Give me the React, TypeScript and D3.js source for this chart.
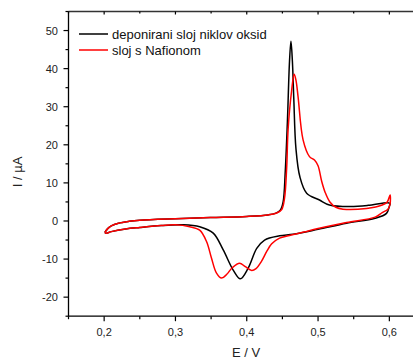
import React from "react";
import * as d3 from "d3";

const seriesNames = ["deponirani sloj niklov oksid", "sloj s Nafionom"];
const seriesColors = ["#000000", "#ff0000"];

// Black: deposited nickel oxide layer (E / V, I / µA), closed CV loop
const blackE = [0.201, 0.205, 0.21, 0.22, 0.235, 0.25, 0.3, 0.35, 0.4, 0.43, 0.44, 0.447, 0.451, 0.454, 0.457, 0.46, 0.462, 0.464, 0.466, 0.469, 0.4745, 0.484, 0.502, 0.516, 0.545, 0.57, 0.598, 0.601,
  0.6, 0.596, 0.58, 0.54, 0.5, 0.465, 0.446, 0.425, 0.414, 0.402, 0.391, 0.381, 0.367, 0.353, 0.334, 0.31, 0.28, 0.25, 0.23, 0.21, 0.203, 0.201];
const blackI = [-3.0, -2.0, -1.3, -0.6, -0.1, 0.2, 0.6, 0.9, 1.2, 1.6, 2.0, 2.8, 5, 13, 26, 42, 47.2, 42, 32, 19, 11.6, 7.3, 5.5, 4.2, 3.8, 4.1, 4.8, 4.6,
  3.8, 2.0, 0.7, -0.6, -2.2, -3.5, -3.9, -5.0, -7.2, -12.4, -15.2, -12.9, -7.6, -3.2, -1.5, -1.0, -1.2, -1.7, -2.1, -2.8, -3.2, -3.0];

// Red: layer with Nafion
const redE = [0.201, 0.205, 0.21, 0.22, 0.235, 0.25, 0.3, 0.35, 0.4, 0.43, 0.442, 0.449, 0.453, 0.456, 0.458, 0.4628, 0.4665, 0.469, 0.472, 0.479, 0.488, 0.495, 0.5, 0.505, 0.51, 0.5166, 0.525, 0.535, 0.568, 0.59, 0.597, 0.601,
  0.601, 0.598, 0.59, 0.58, 0.54, 0.5, 0.48, 0.46, 0.446, 0.435, 0.428, 0.42, 0.413, 0.407, 0.398, 0.39, 0.38, 0.372, 0.3647, 0.3576, 0.3506, 0.3436, 0.334, 0.32, 0.3, 0.28, 0.25, 0.23, 0.21, 0.203, 0.201];
const redI = [-3.0, -2.0, -1.3, -0.6, -0.1, 0.2, 0.6, 0.9, 1.2, 1.6, 2.1, 3.0, 6, 14, 24, 34, 38.5, 37, 32.6, 21.3, 16.9, 16, 14.5, 10.5, 7.5, 5.0, 3.6, 3.1, 3.3, 4.2, 5.0, 6.8,
  4.5, 3.1, 2.2, 1.0, -0.4, -2.0, -2.9, -3.8, -4.5, -6, -8, -10.8, -12.5, -13, -12, -11.1, -12.2, -14, -15, -13.7, -9.8, -5.4, -2.4, -1.5, -1.0, -1.2, -1.7, -2.1, -2.8, -3.2, -3.0];

const xMajor = [0.2, 0.3, 0.4, 0.5, 0.6];
const xMinor = [0.15, 0.25, 0.35, 0.45, 0.55, 0.65];
const yMajor = [-20, -10, 0, 10, 20, 30, 40, 50];
const yMinor = [-25, -15, -5, 5, 15, 25, 35, 45, 55];

const xTitle = "E / V";
const yTitle = "I / µA";

export default function App() {
  const W = 413, H = 362;
  const x = d3.scaleLinear().domain([0.15, 0.65]).range([68.5, 425]);
  const y = d3.scaleLinear().domain([-25, 55]).range([316.2, 11.5]);
  const line = d3
    .line<[number, number]>()
    .x((d) => x(d[0]))
    .y((d) => y(d[1]))
    .curve(d3.curveCatmullRom.alpha(0.5));
  const series = [
    blackE.map((e, i) => [e, blackI[i]] as [number, number]),
    redE.map((e, i) => [e, redI[i]] as [number, number]),
  ];
  const x0 = x(0.15), x1 = x(0.65), yb = y(-25), yt = y(55);
  const font = "Liberation Sans, Arial, sans-serif";
  const fmt = (v: number) => v.toFixed(1).replace(".", ",");
  return (
    <svg width={W} height={H} style={{ position: "absolute", left: 0, top: 0, background: "#fff" }} fontFamily={font}>
      <rect x={0} y={0} width={W} height={H} fill="#fff" />
      {series.map((s, i) => (
        <path key={i} d={line(s) || ""} fill="none" stroke={seriesColors[i]} strokeWidth={1.5} strokeLinejoin="round" />
      ))}
      {/* frame */}
      <line x1={x0} x2={x1} y1={yb} y2={yb} stroke="#000" strokeWidth={1.3} />
      <line x1={x0} x2={x1} y1={yt} y2={yt} stroke="#333" strokeWidth={1.3} />
      <line x1={x0} x2={x0} y1={yt} y2={yb} stroke="#000" strokeWidth={1.3} />
      {/* x ticks */}
      {xMajor.map((v) => (
        <g key={"xm" + v}>
          <line x1={x(v)} x2={x(v)} y1={yb} y2={yb + 5} stroke="#000" strokeWidth={1.2} />
          <line x1={x(v)} x2={x(v)} y1={yt} y2={yt + 3} stroke="#000" strokeWidth={1.2} />
          <text x={x(v)} y={336} fontSize={11} textAnchor="middle" fill="#222">{fmt(v)}</text>
        </g>
      ))}
      {xMinor.map((v) => (
        <g key={"xn" + v}>
          <line x1={x(v)} x2={x(v)} y1={yb} y2={yb + 3} stroke="#000" strokeWidth={1.2} />
          <line x1={x(v)} x2={x(v)} y1={yt} y2={yt + 2} stroke="#000" strokeWidth={1.2} />
        </g>
      ))}
      {/* y ticks */}
      {yMajor.map((v) => (
        <g key={"ym" + v}>
          <line x1={x0 - 5} x2={x0} y1={y(v)} y2={y(v)} stroke="#000" strokeWidth={1.2} />
          <text x={58} y={y(v) + 4} fontSize={11} textAnchor="end" fill="#222">{v}</text>
        </g>
      ))}
      {yMinor.map((v) => (
        <line key={"yn" + v} x1={x0 - 3} x2={x0} y1={y(v)} y2={y(v)} stroke="#000" strokeWidth={1.2} />
      ))}
      {/* titles */}
      <text x={246} y={357} fontSize={13} textAnchor="middle" fill="#222">{xTitle}</text>
      <text transform="translate(22,172) rotate(-90)" fontSize={13} textAnchor="middle" fill="#222">{yTitle}</text>
      {/* legend */}
      {seriesNames.map((n, i) => (
        <g key={"lg" + i}>
          <line x1={79} x2={108} y1={34 + i * 16} y2={34 + i * 16} stroke={seriesColors[i]} strokeWidth={1.5} />
          <text x={112} y={34 + i * 16 + 4.5} fontSize={13} fill="#111">{n}</text>
        </g>
      ))}
    </svg>
  );
}
